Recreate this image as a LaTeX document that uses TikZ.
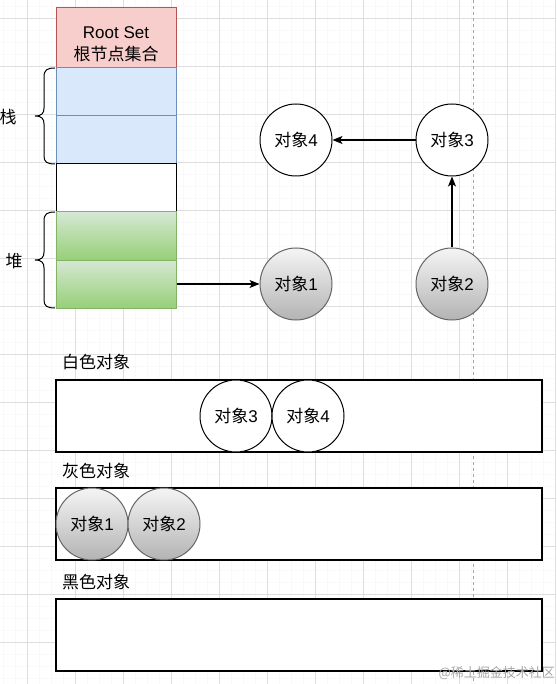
\documentclass[tikz,border=0pt]{standalone}
\usepackage{fontspec}
\setmainfont{Liberation Sans}
\newfontfamily\cjk{Noto Sans CJK SC}
\usetikzlibrary{arrows.meta}
\definecolor{rsfill}{HTML}{F8CECC}
\definecolor{rsline}{HTML}{B85450}
\definecolor{bfill}{HTML}{DAE8FC}
\definecolor{bline}{HTML}{6C8EBF}
\definecolor{gtop}{HTML}{D5E8D4}
\definecolor{gbot}{HTML}{97D077}
\definecolor{gline}{HTML}{82B366}
\definecolor{ctop}{HTML}{F5F5F5}
\definecolor{cbot}{HTML}{B3B3B3}
\definecolor{cline}{HTML}{666666}
\tikzset{
  txt/.style={font=\fontsize{17}{20}\selectfont},
  cell/.style={rectangle, minimum width=120pt, minimum height=48pt, inner sep=0pt, line width=1pt, txt},
  rootbox/.style={cell, minimum height=60pt, fill=rsfill, draw=rsline},
  bluebox/.style={cell, fill=bfill, draw=bline},
  whitebox/.style={cell, fill=white, draw=black},
  greenbox/.style={cell, top color=gtop, bottom color=gbot, draw=gline},
  objw/.style={circle, minimum size=72pt, inner sep=0pt, draw=black, fill=white, line width=1pt, txt},
  objg/.style={circle, minimum size=72pt, inner sep=0pt, draw=cline, top color=ctop, bottom color=cbot, line width=1pt, txt},
  row/.style={rectangle, minimum width=486pt, minimum height=72pt, inner sep=0pt, draw=black, fill=white, line width=1.1pt},
  lbl/.style={anchor=west, inner sep=0pt, txt},
  conn/.style={line width=1.1pt, -{Stealth[length=10pt,width=8pt,inset=2.5pt]}},
  gridmaj/.style={draw=black!13, line width=0.6pt},
  gridmin/.style={draw=black!2.5, line width=0.5pt},
  brace/.style={line width=1pt, draw=black}
}
\begin{document}
\begin{tikzpicture}[x=1pt,y=-1pt]
\useasboundingbox (0,0) rectangle (556,684);
\fill[white] (0,0) rectangle (556,684);
% grid
\foreach \x in {3,15,...,555} \draw[gridmin] (\x,0) -- (\x,684);
\foreach \y in {6,18,...,684} \draw[gridmin] (0,\y) -- (556,\y);
\foreach \x in {27,75,...,555} \draw[gridmaj] (\x,0) -- (\x,684);
\foreach \y in {18,66,...,684} \draw[gridmaj] (0,\y) -- (556,\y);
\draw[black!35, line width=0.6pt, dash pattern=on 3pt off 3pt] (473,0) -- (473,684);

% stack column
\node[rootbox] (rs) at (116,38) {};
\node[txt, align=center, inner sep=0pt, font=\fontsize{17}{22}\selectfont] (rstxt) at (116,44) {Root Set\\{\cjk 根节点集合}};
\node[bluebox] (b1) at (116,92) {};
\node[bluebox] (b2) at (116,140) {};
\node[whitebox] (wb) at (116,188) {};
\node[greenbox] (g1) at (116,236) {};
\node[greenbox] (g2) at (116,284) {};

% braces
\draw[brace] (55,68) .. controls (47,68) and (44,70) .. (44,77) -- (44,108)
  .. controls (44,113) and (42,116) .. (35,116)
  .. controls (42,116) and (44,119) .. (44,124) -- (44,156)
  .. controls (44,162) and (47,164) .. (55,164);
\draw[brace] (55,212) .. controls (47,212) and (44,214) .. (44,221) -- (44,252)
  .. controls (44,257) and (42,260) .. (35,260)
  .. controls (42,260) and (44,263) .. (44,268) -- (44,300)
  .. controls (44,306) and (47,308) .. (55,308);
\node[txt, inner sep=0pt] (zhan) at (8,117) {\cjk 栈};
\node[txt, inner sep=0pt] (dui) at (14,261) {\cjk 堆};

% objects
\node[objw] (o4) at (296,140) {{\cjk 对象}4};
\node[objw] (o3) at (452,140) {{\cjk 对象}3};
\node[objg] (o1) at (296,284) {{\cjk 对象}1};
\node[objg] (o2) at (452,284) {{\cjk 对象}2};
\draw[conn] (g2.east) -- (o1);
\draw[conn] (o3) -- (o4);
\draw[conn] (o2) -- (o3);

% white objects
\node[lbl] (lw) at (62,362) {\cjk 白色对象};
\node[row] (rw) at (299,416) {};
\node[objw] (w3) at (236,416) {{\cjk 对象}3};
\node[objw] (w4) at (308,416) {{\cjk 对象}4};

% gray objects
\node[lbl] (lg) at (62,471) {\cjk 灰色对象};
\node[row] (rg) at (299,524) {};
\node[objg] (g1c) at (92,524) {{\cjk 对象}1};
\node[objg] (g2c) at (164,524) {{\cjk 对象}2};

% black objects
\node[lbl] (lb) at (62,582) {\cjk 黑色对象};
\node[row] (rb) at (299,635) {};

% watermark
\node[anchor=east, inner sep=0pt, text=black!35, font=\cjk\fontsize{13}{15}\selectfont] (wm) at (555,673) {@稀土掘金技术社区};
\end{tikzpicture}
\end{document}
